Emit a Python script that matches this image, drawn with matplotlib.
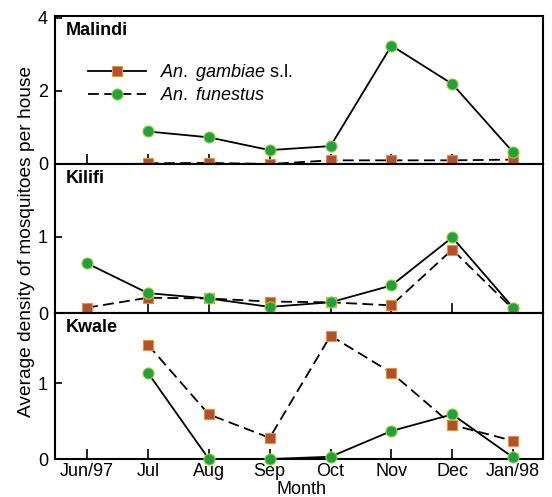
import numpy as np
import matplotlib
matplotlib.use("Agg")
import matplotlib.pyplot as plt
from matplotlib.lines import Line2D

plt.rcParams['font.family'] = ['Liberation Sans', 'DejaVu Sans']
plt.rcParams['mathtext.fontset'] = 'custom'
plt.rcParams['mathtext.rm'] = 'Liberation Sans'
plt.rcParams['mathtext.it'] = 'Liberation Sans:italic'

nan = np.nan
months = ['Jun/97', 'Jul', 'Aug', 'Sep', 'Oct', 'Nov', 'Dec', 'Jan/98']
sites = ['Malindi', 'Kilifi', 'Kwale']

malindi_gambiae = [nan, 0.02, 0.03, 0.0, 0.10, 0.10, 0.10, 0.12]
malindi_funestus = [nan, 0.89, 0.73, 0.38, 0.49, 3.24, 2.19, 0.32]
kilifi_gambiae = [0.07, 0.20, 0.19, 0.15, 0.14, 0.10, 0.83, 0.05]
kilifi_funestus = [0.65, 0.26, 0.19, 0.08, 0.14, 0.36, 0.99, 0.07]
kwale_gambiae = [nan, 1.51, 0.59, 0.28, 1.63, 1.14, 0.45, 0.24]
kwale_funestus = [nan, 1.14, 0.0, 0.0, 0.03, 0.37, 0.59, 0.02]

gambiae = [malindi_gambiae, kilifi_gambiae, kwale_gambiae]
funestus = [malindi_funestus, kilifi_funestus, kwale_funestus]
ylims = [(0, 4.05), (0, 1.95), (0, 1.93)]
yticks = [[0, 2, 4], [0, 1], [0, 1]]

sq_face, sq_edge = '#b0502c', '#e8903c'
ci_face, ci_edge = '#21a03e', '#a8d040'
dash = (0, (6, 3))

W, H = 552, 497
fig = plt.figure(figsize=(W / 100, H / 100), dpi=100)
left, right = 55 / W, 543 / W
bounds = [(16, 164), (164, 313), (313, 459)]
x = np.arange(len(months))

axes = []
for i, (top, bot) in enumerate(bounds):
    ax = fig.add_axes([left, 1 - bot / H, right - left, (bot - top) / H])
    axes.append(ax)
    ax.plot(x, gambiae[i], color='black', lw=1.3, linestyle=dash, marker='s',
            ms=7.5, mfc=sq_face, mec=sq_edge, mew=0.8, zorder=3, clip_on=False)
    ax.plot(x, funestus[i], color='black', lw=1.3, linestyle='-', marker='o',
            ms=8, mfc=ci_face, mec=ci_edge, mew=0.8, zorder=4, clip_on=False)
    ax.set_xlim(-0.526, 7.49)
    ax.set_ylim(*ylims[i])
    ax.set_yticks(yticks[i])
    ax.set_xticks(x)
    ax.tick_params(axis='x', direction='in', length=7, width=1.2)
    ax.tick_params(axis='y', direction='in', length=5, width=1.2, labelsize=13, pad=5)
    if i < 2:
        ax.set_xticklabels([])
    else:
        ax.set_xticklabels(months, fontsize=13)
        ax.tick_params(axis='x', pad=3)
    for s in ax.spines.values():
        s.set_linewidth(1.5)
    ax.text(0.022, 0.96, sites[i], transform=ax.transAxes, fontsize=13,
            fontweight='bold', ha='left', va='top')

handles = [
    Line2D([], [], color='black', lw=1.3, linestyle='-', marker='s', ms=7.5,
           mfc=sq_face, mec=sq_edge, mew=0.8),
    Line2D([], [], color='black', lw=1.3, linestyle=dash, marker='o', ms=8,
           mfc=ci_face, mec=ci_edge, mew=0.8),
]
labels = [r'$\it{An.\ gambiae}$ s.l.', r'$\it{An.\ funestus}$']
axes[0].legend(handles, labels, loc='upper left', bbox_to_anchor=(0.068, 0.69),
               frameon=False, fontsize=13, handlelength=3.2, handletextpad=0.8,
               labelspacing=0.25, borderpad=0, borderaxespad=0, numpoints=1)

fig.text(27 / W, 1 - 241 / H, 'Average density of mosquitoes per house',
         rotation=90, ha='center', va='center', fontsize=13.8)
fig.text(302 / W, 1 - 490 / H, 'Month', ha='center', va='center', fontsize=13)

fig.savefig('out.png', dpi=100)
